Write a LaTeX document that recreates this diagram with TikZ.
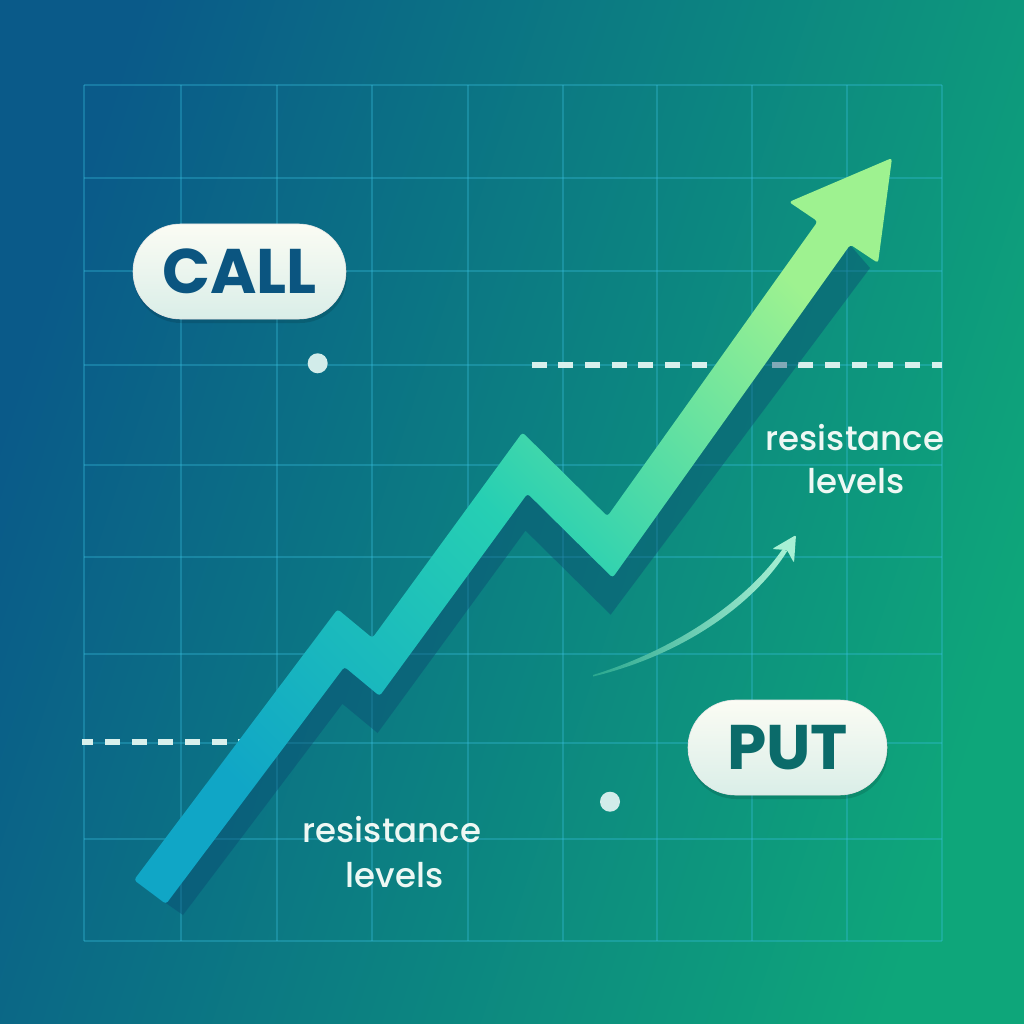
\documentclass[tikz,border=0pt]{standalone}
\usepackage{fontspec}
\newfontfamily\pop{Poppins}
\newfontfamily\popm{Poppins Medium}
\usetikzlibrary{shapes.misc}
\definecolor{bgL}{HTML}{0A5A89}
\definecolor{bgM}{HTML}{0B7A88}
\definecolor{bgR}{HTML}{0EA67A}
\definecolor{gridc}{HTML}{38C0E0}
\definecolor{dashc}{HTML}{D8F0EC}
\definecolor{arrA}{HTML}{10A6C6}
\definecolor{arrB}{HTML}{26CFB3}
\definecolor{arrC}{HTML}{9EF290}
\definecolor{shadowc}{HTML}{0A4870}
\definecolor{pillT}{HTML}{FBFCF4}
\definecolor{pillB}{HTML}{DAEEE8}
\definecolor{callc}{HTML}{0B5580}
\definecolor{putc}{HTML}{0B6B6A}
\definecolor{dotcol}{HTML}{D2ECEA}
\definecolor{labc}{HTML}{EEF8F4}
\definecolor{curA}{HTML}{2BA88F}
\definecolor{curB}{HTML}{A8F0D4}
\begin{document}
\begin{tikzpicture}[x=1pt,y=-1pt,
  gridline/.style={draw=gridc, draw opacity=0.32, line width=2pt},
  dashline/.style={draw=dashc, line width=6pt, dash pattern=on 15pt off 11.67pt},
  pill/.style={rounded rectangle, minimum height=95pt, inner sep=0pt,
    top color=pillT, bottom color=pillB, draw=white!80!gray, line width=0.6pt},
  dotnode/.style={circle, fill=dotcol, minimum size=20pt, inner sep=0pt},
  lab/.style={text=labc, font=\popm\fontsize{34}{40}\selectfont, anchor=base, inner sep=0pt}]
\useasboundingbox (0,0) rectangle (1024,1024);
% background
\shade[left color=bgL, middle color=bgM, right color=bgR, shading angle=72] (0,0) rectangle (1024,1024);
% grid
\foreach \gx in {84,181,277,372,468,563,657,752,847,942}
  \draw[gridline] (\gx,85) -- (\gx,941);
\foreach \gy in {85,178,271,365,465,557,654,743,839,941}
  \draw[gridline] (84,\gy) -- (942,\gy);
% dashed resistance lines
\coordinate (dl1) at (82,742);
\coordinate (dl2) at (245,742);
\coordinate (dr1) at (531.7,365);
\coordinate (dr2) at (942,365);
\draw[dashline, dash phase=3.67pt] (dl1) -- (dl2);
\draw[dashline] (dr1) -- (dr2);
% shadow of the trend arrow
\fill[shadowc, fill opacity=0.42] (183,915) -- (342.4,703.8) -- (377.6,733) -- (525.5,530.6)
  -- (610.6,614.7) -- (870,268) -- (850,245) -- (610,547) -- (525,463) -- (376,667)
  -- (341,638) -- (150,892) -- cycle;
% trend arrow
\shade[top color=arrA, bottom color=arrC, middle color=arrB, shading angle=135, rounded corners=3pt]
  (166,904) -- (134,880) -- (337.6,609.2) -- (372.4,638) -- (522.5,432.4) -- (607.4,516.3)
  -- (817.7,221.4) -- (789,202) -- (892,158) -- (878,263) -- (850.3,244.6) -- (612.6,577.7)
  -- (527.5,493.6) -- (379.6,696) -- (344.4,666.8) -- cycle;
% small curved arrow
\shade[left color=curA, right color=curB]
  (593,675) .. controls (680,648) and (749,598) .. (783,548.6) -- (787,551.4)
  .. controls (754,604) and (683,655) .. (593,676.5) -- cycle;
\fill[curB, rounded corners=1.5pt] (772,549) -- (796,535) -- (794,563) -- (787,550) -- cycle;
% pills
\fill[black, opacity=0.12, rounded corners=47pt] (134,227) rectangle (347,323);
\node[pill, minimum width=213pt, text=callc, font=\pop\bfseries\fontsize{63}{63}\selectfont] (call) at (239.5,271.5) {CALL};
\fill[black, opacity=0.12, rounded corners=47pt] (689,703) rectangle (888,799);
\node[pill, minimum width=199pt, text=putc, font=\pop\bfseries\fontsize{63}{63}\selectfont] (put) at (787.5,747.5) {PUT};
% dots
\node[dotnode] (calldot) at (317.7,363.3) {};
\node[dotnode] (putdot) at (610,801.7) {};
% labels
\node[lab] (r1a) at (855,450) {resistance};
\node[lab] (r1b) at (856,493) {levels};
\node[lab] (r2a) at (392,842) {resistance};
\node[lab] (r2b) at (394.5,887) {levels};
\end{tikzpicture}
\end{document}
